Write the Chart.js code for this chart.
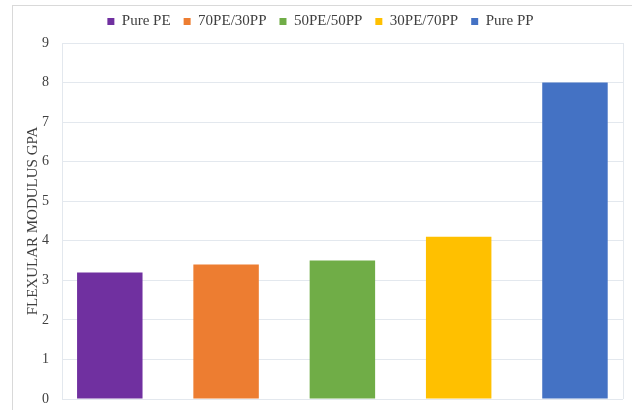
<!DOCTYPE html>
<html>
<head>
<meta charset="utf-8">
<script src="https://cdn.jsdelivr.net/npm/chart.js@4/dist/chart.umd.min.js"></script>
<style>
  html, body { margin: 0; padding: 0; background: #ffffff; overflow: hidden; }
  #wrap { position: relative; width: 632px; height: 410px; }
  #frame { position: absolute; left: 12px; top: 5px; width: 640px; height: 420px; border: 1px solid #d9d9d9; box-sizing: border-box; }
  canvas { position: absolute; left: 0; top: 0; }
</style>
</head>
<body>
<div id="wrap">
  <div id="frame"></div>
  <canvas id="c" width="632" height="410"></canvas>
</div>
<script>
const categories = ['Pure PE', '70PE/30PP', '50PE/50PP', '30PE/70PP', 'Pure PP'];
const modulusValues = [3.2, 3.4, 3.5, 4.1, 8.0];
const barColors = ['#7030A0', '#ED7D31', '#70AD47', '#FFC000', '#4472C4'];
const yTicks = [0, 1, 2, 3, 4, 5, 6, 7, 8, 9];
const yTitle = 'FLEXULAR MODULUS GPA';

const gridColor = '#e3e8ee';
const textColor = '#404040';
const serif = "'Liberation Serif', 'Times New Roman', serif";

const datasets = categories.map((name, i) => ({
  label: name,
  data: [{ x: i, y: modulusValues[i] }],
  backgroundColor: barColors[i],
  borderWidth: 0
}));

const rightEdge = {
  id: 'rightEdge',
  beforeDatasetsDraw(chart) {
    const a = chart.chartArea, ctx = chart.ctx;
    ctx.save();
    ctx.strokeStyle = gridColor;
    ctx.lineWidth = 1;
    ctx.beginPath();
    ctx.moveTo(Math.round(a.right) + 0.5, a.top);
    ctx.lineTo(Math.round(a.right) + 0.5, a.bottom);
    ctx.stroke();
    ctx.restore();
  }
};

const legendLift = {
  id: 'legendLift',
  afterLayout(chart) {
    if (chart.legend) {
      chart.legend.top -= 4;
      chart.legend.bottom -= 4;
    }
  }
};

new Chart(document.getElementById('c'), {
  type: 'bar',
  data: { datasets },
  options: {
    responsive: false,
    animation: false,
    devicePixelRatio: 1,
    layout: { padding: { left: 9, right: 0, top: 0, bottom: 11 } },
    datasets: { bar: { grouped: false, categoryPercentage: 1, barPercentage: 0.563 } },
    plugins: {
      legend: {
        position: 'top',
        labels: {
          font: { family: serif, size: 15 },
          color: textColor,
          boxWidth: 7,
          boxHeight: 7,
          padding: 13
        }
      },
      tooltip: { enabled: false }
    },
    scales: {
      x: {
        type: 'linear',
        display: false,
        offset: false,
        min: -0.411,
        max: 4.413,
        afterBuildTicks(scale) { scale.ticks = categories.map((c, i) => ({ value: i })); }
      },
      y: {
        min: 0,
        max: 9,
        afterBuildTicks(scale) { scale.ticks = yTicks.map(v => ({ value: v })); },
        afterFit(scale) {
          scale.width = 53;
          scale.paddingTop = 43;
          scale.paddingBottom = 11;
          scale.paddingRight = 9;
        },
        ticks: {
          font: { family: serif, size: 14 },
          color: textColor,
          padding: 13
        },
        grid: { color: gridColor, drawTicks: false },
        border: { color: gridColor },
        title: {
          display: true,
          text: yTitle,
          font: { family: serif, size: 15 },
          color: textColor,
          padding: { top: 15, bottom: 0 }
        }
      }
    }
  },
  plugins: [rightEdge, legendLift]
});
</script>
</body>
</html>
